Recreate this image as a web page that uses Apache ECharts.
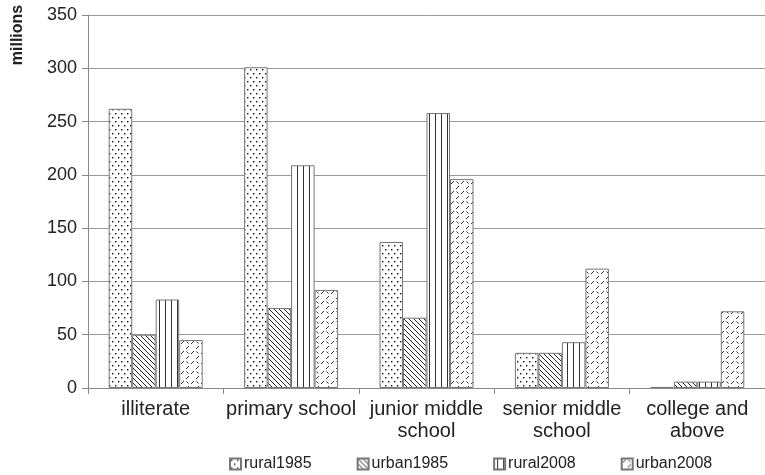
<!DOCTYPE html>
<html>
<head>
<meta charset="utf-8">
<script src="https://cdn.jsdelivr.net/npm/echarts@6/dist/echarts.min.js"></script>
<style>
  html, body { margin: 0; padding: 0; background: #fff; }
  #chart { width: 765px; height: 475px; }
</style>
</head>
<body>
<div id="chart"></div>
<script>
// Education level of the population, millions
const categories = ['illiterate', 'primary school', 'junior middle\nschool', 'senior middle\nschool', 'college and\nabove'];
const rural1985 = [262, 301, 137, 33, 1];
const urban1985 = [50, 75, 66, 33, 6];
const rural2008 = [83, 209, 258, 43, 6];
const urban2008 = [45, 92, 196, 112, 72];
const yTicks = [0, 50, 100, 150, 200, 250, 300, 350];

// Hatch tiles used as bar fills
function tile(w, h, draw) {
  const c = document.createElement('canvas');
  c.width = w; c.height = h;
  const ctx = c.getContext('2d');
  ctx.fillStyle = '#fff';
  ctx.fillRect(0, 0, w, h);
  draw(ctx, w, h);
  return { image: c, repeat: 'repeat' };
}

const dots = tile(6, 8, (ctx) => {
  ctx.fillStyle = '#111';
  ctx.fillRect(1, 1, 1.4, 1.4);
  ctx.fillRect(4, 5, 1.4, 1.4);
});

const backslash = tile(5, 5, (ctx, w, h) => {
  ctx.strokeStyle = '#222';
  ctx.lineWidth = 1;
  for (let o = -w; o <= w; o += w) {
    ctx.beginPath();
    ctx.moveTo(o - 1, -1);
    ctx.lineTo(o + w + 1, h + 1);
    ctx.stroke();
  }
});

const vertical = tile(6, 6, (ctx) => {
  ctx.fillStyle = '#333';
  ctx.fillRect(3, 0, 1, 6);
});

const dashes = tile(10, 10, (ctx) => {
  ctx.strokeStyle = '#333';
  ctx.lineWidth = 1;
  ctx.beginPath();
  ctx.moveTo(1, 4); ctx.lineTo(4, 1);
  ctx.moveTo(6, 9); ctx.lineTo(9, 6);
  ctx.moveTo(6.5, 1.5); ctx.lineTo(8.5, 3.5);
  ctx.stroke();
});

const chart = echarts.init(document.getElementById('chart'), null, { renderer: 'canvas' });

function barSeries(name, data, fill) {
  return {
    name: name,
    type: 'bar',
    data: data,
    barWidth: 23.5,
    barGap: '0%',
    itemStyle: { color: fill, borderColor: '#777', borderWidth: 1 },
    emphasis: { disabled: true }
  };
}

chart.setOption({
  animation: false,
  textStyle: { fontFamily: 'Liberation Sans, Arial, sans-serif', color: '#222' },
  grid: { left: 88, top: 15, width: 685, bottom: 87, containLabel: false },
  graphic: [{
    type: 'text',
    rotation: Math.PI / 2,
    style: {
      text: 'millions',
      fontFamily: 'Liberation Sans, Arial, sans-serif',
      fontWeight: 'bold',
      fontSize: 16,
      fill: '#222',
      align: 'center',
      verticalAlign: 'middle'
    },
    x: 18, y: 35
  }],
  legend: {
    top: 456,
    left: 229,
    padding: 0,
    itemWidth: 11,
    itemHeight: 11,
    itemGap: 45,
    icon: 'rect',
    textStyle: { fontSize: 16, color: '#222', padding: [0, 0, 0, -2] },
    data: ['rural1985', 'urban1985', 'rural2008', 'urban2008']
  },
  xAxis: {
    type: 'category',
    data: categories,
    axisLine: { lineStyle: { color: '#888', width: 1 } },
    axisTick: { show: true, length: 6, lineStyle: { color: '#888' } },
    axisLabel: { fontSize: 20, color: '#222', margin: 10, lineHeight: 22, interval: 0 }
  },
  yAxis: {
    type: 'value',
    min: yTicks[0],
    max: yTicks[yTicks.length - 1],
    interval: 50,
    axisLine: { show: true, lineStyle: { color: '#888', width: 1 } },
    axisTick: { show: true, length: 6, lineStyle: { color: '#888' } },
    axisLabel: { fontSize: 18, color: '#222', margin: 11 },
    splitLine: { lineStyle: { color: '#999', width: 1 } }
  },
  series: [
    barSeries('rural1985', rural1985, dots),
    barSeries('urban1985', urban1985, backslash),
    barSeries('rural2008', rural2008, vertical),
    barSeries('urban2008', urban2008, dashes)
  ]
});
</script>
</body>
</html>
